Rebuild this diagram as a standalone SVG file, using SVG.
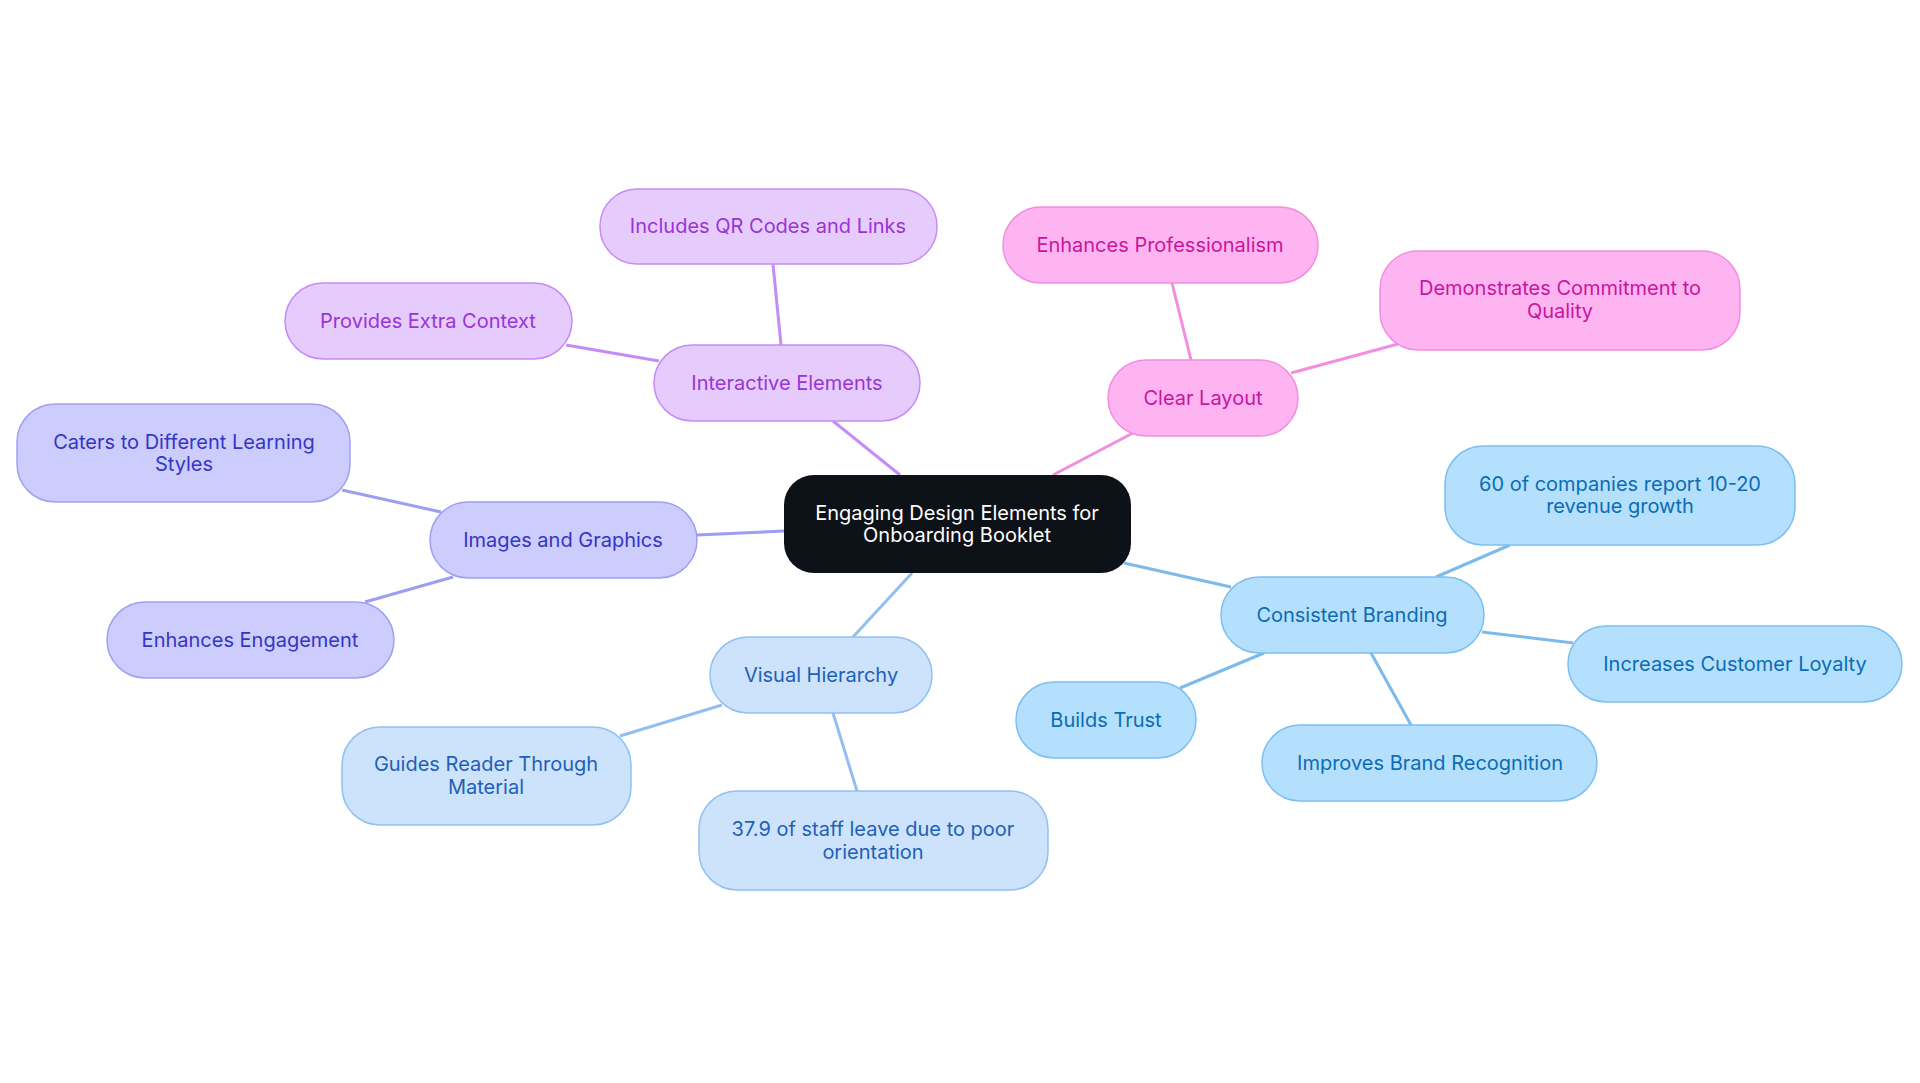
<svg xmlns="http://www.w3.org/2000/svg" width="1920" height="1083" viewBox="0 0 1920 1083">
<style>
text{font-family:Inter,"Noto Sans",sans-serif;font-size:20px;text-anchor:middle;dominant-baseline:central}
.e{fill:none;stroke-width:3}
.pu rect{fill:#e6cbfd;stroke:#c68cf5;stroke-width:1.5}.pu text{fill:#9a34d6}
.pk rect{fill:#ffb4f2;stroke:#f28ee0;stroke-width:1.5}.pk text{fill:#c8169c}
.in rect{fill:#ccccfd;stroke:#a0a0f2;stroke-width:1.5}.in text{fill:#3535c4}
.lb rect{fill:#cde3fb;stroke:#92c0f2;stroke-width:1.5}.lb text{fill:#1e60b8}
.sk rect{fill:#b4e0fd;stroke:#7cbff0;stroke-width:1.5}.sk text{fill:#0b6cb5}
</style>
<rect width="1920" height="1083" fill="#fff"/>
<g id="connectors">
<g stroke="#c68cf5" class="e"><line x1="900" y1="475" x2="833" y2="421"/><line x1="781" y1="345" x2="773" y2="264"/><line x1="659" y1="361" x2="566" y2="345"/></g>
<g stroke="#f28ee0" class="e"><line x1="1053" y1="475" x2="1133" y2="433"/><line x1="1191" y1="360" x2="1172" y2="283"/><line x1="1291" y1="373" x2="1398" y2="344"/></g>
<g stroke="#9d9df2" class="e"><line x1="784" y1="531" x2="697" y2="535"/><line x1="441" y1="512" x2="342" y2="490"/><line x1="453" y1="577" x2="365" y2="602"/></g>
<g stroke="#92bef0" class="e"><line x1="912" y1="573" x2="853" y2="637"/><line x1="722" y1="705" x2="620" y2="736"/><line x1="833" y1="713" x2="857" y2="791"/></g>
<g stroke="#7cbaec" class="e"><line x1="1124" y1="563" x2="1231" y2="587"/><line x1="1436" y1="577" x2="1510" y2="545"/><line x1="1482" y1="632" x2="1573" y2="643"/><line x1="1264" y1="653" x2="1180" y2="688"/><line x1="1371" y1="653" x2="1411" y2="725"/></g>
</g>
<g id="center"><rect x="784" y="475" width="347" height="98" rx="30" fill="#0d1118"/><text x="957" y="513" fill="#fff">Engaging Design Elements for</text><text x="957" y="535" fill="#fff">Onboarding Booklet</text></g>
<g id="interactive" class="pu"><rect x="654" y="345" width="266" height="76" rx="38"/><text x="787" y="383">Interactive Elements</text></g>
<g id="qr" class="pu"><rect x="600" y="189" width="337" height="75" rx="37"/><text x="768" y="226">Includes QR Codes and Links</text></g>
<g id="context" class="pu"><rect x="285" y="283" width="287" height="76" rx="38"/><text x="428" y="321">Provides Extra Context</text></g>
<g id="clear" class="pk"><rect x="1108" y="360" width="190" height="76" rx="38"/><text x="1203" y="398">Clear Layout</text></g>
<g id="prof" class="pk"><rect x="1003" y="207" width="315" height="76" rx="38"/><text x="1160" y="245">Enhances Professionalism</text></g>
<g id="quality" class="pk"><rect x="1380" y="251" width="360" height="99" rx="38"/><text x="1560" y="288">Demonstrates Commitment to</text><text x="1560" y="311">Quality</text></g>
<g id="images" class="in"><rect x="430" y="502" width="267" height="76" rx="38"/><text x="563" y="540">Images and Graphics</text></g>
<g id="caters" class="in"><rect x="17" y="404" width="333" height="98" rx="38"/><text x="184" y="442">Caters to Different Learning</text><text x="184" y="464">Styles</text></g>
<g id="engagement" class="in"><rect x="107" y="602" width="287" height="76" rx="38"/><text x="250" y="640">Enhances Engagement</text></g>
<g id="visual" class="lb"><rect x="710" y="637" width="222" height="76" rx="38"/><text x="821" y="675">Visual Hierarchy</text></g>
<g id="guides" class="lb"><rect x="342" y="727" width="289" height="98" rx="38"/><text x="486" y="764">Guides Reader Through</text><text x="486" y="787">Material</text></g>
<g id="staff" class="lb"><rect x="699" y="791" width="349" height="99" rx="38"/><text x="873" y="829">37.9 of staff leave due to poor</text><text x="873" y="852">orientation</text></g>
<g id="branding" class="sk"><rect x="1221" y="577" width="263" height="76" rx="38"/><text x="1352" y="615">Consistent Branding</text></g>
<g id="revenue" class="sk"><rect x="1445" y="446" width="350" height="99" rx="38"/><text x="1620" y="484">60 of companies report 10-20</text><text x="1620" y="506">revenue growth</text></g>
<g id="loyalty" class="sk"><rect x="1568" y="626" width="334" height="76" rx="38"/><text x="1735" y="664">Increases Customer Loyalty</text></g>
<g id="trust" class="sk"><rect x="1016" y="682" width="180" height="76" rx="38"/><text x="1106" y="720">Builds Trust</text></g>
<g id="recognition" class="sk"><rect x="1262" y="725" width="335" height="76" rx="38"/><text x="1430" y="763">Improves Brand Recognition</text></g>
</svg>
